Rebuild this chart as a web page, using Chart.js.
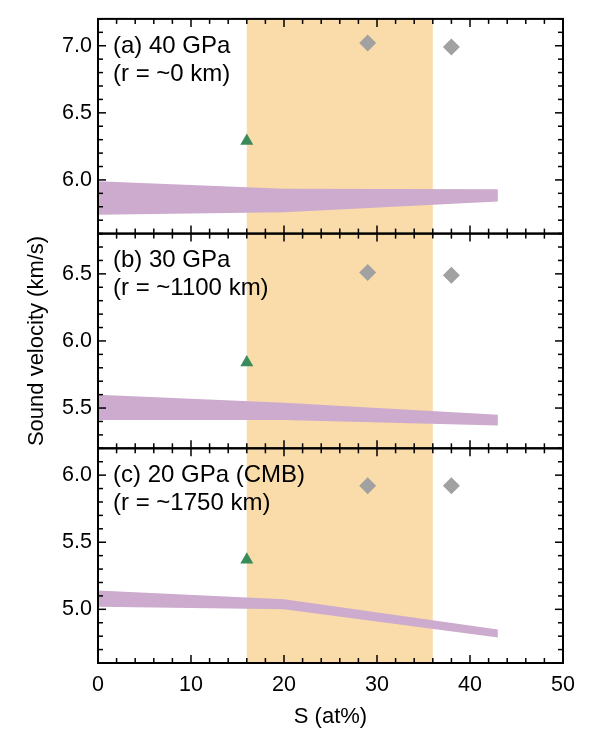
<!DOCTYPE html>
<html>
<head>
<meta charset="utf-8">
<script src="https://cdn.jsdelivr.net/npm/chart.js@4"></script>
<style>
  html, body { margin: 0; padding: 0; background: #fff; }
  #chart { display: block; }
</style>
</head>
<body>
<canvas id="chart" width="600" height="736"></canvas>
<script>
const FONT = '"Liberation Sans", Arial, Helvetica, sans-serif';

// S content axis
const xTicks = [0, 10, 20, 30, 40, 50];
const shadeRange = [16, 36];

// purple band: upper and lower edge at each S content
const bandS = [0, 20, 43];
const bandTopA = [5.99, 5.935, 5.93];
const bandBotA = [5.74, 5.76, 5.84];
const bandTopB = [5.60, 5.54, 5.45];
const bandBotB = [5.41, 5.41, 5.37];
const bandTopC = [5.14, 5.075, 4.85];
const bandBotC = [5.02, 5.00, 4.79];

// green triangle (one per panel, a / b / c)
const triangleS = [16];
const triangleV = [6.29, 5.84, 5.37];

// grey diamonds
const diamondS = [29, 38];
const diamondA = [7.02, 6.99];
const diamondB = [6.51, 6.49];
const diamondC = [5.92, 5.92];

// panels, top to bottom
const panelIds = ["yA", "yB", "yC"];
const panelRanges = [[5.6, 7.2], [5.2, 6.8], [4.6, 6.2]];
const panelTicks = [[6.0, 6.5, 7.0], [5.5, 6.0, 6.5], [5.0, 5.5, 6.0]];
const panelLabels = [
  ["(a) 40 GPa", "(r = ~0 km)"],
  ["(b) 30 GPa", "(r = ~1100 km)"],
  ["(c) 20 GPa (CMB)", "(r = ~1750 km)"]
];

const bandTops = [bandTopA, bandTopB, bandTopC];
const bandBots = [bandBotA, bandBotB, bandBotC];
const diamonds = [diamondA, diamondB, diamondC];

const SHADE = "#FADBAA";
const PURPLE = "#CDABCE";
const GREEN = "#3A8A5B";
const GREY = "#A1A1A1";

function pts(xs, ys) {
  return xs.map((x, i) => ({ x: x, y: ys[i] }));
}

// build datasets for each panel
const datasets = [];
panelIds.forEach((id, i) => {
  datasets.push({
    type: "line", data: pts(bandS, bandTops[i]), yAxisID: id,
    borderColor: "rgba(0,0,0,0)", borderWidth: 0, pointRadius: 0,
    backgroundColor: PURPLE, fill: "+1", tension: 0
  });
  datasets.push({
    type: "line", data: pts(bandS, bandBots[i]), yAxisID: id,
    borderColor: "rgba(0,0,0,0)", borderWidth: 0, pointRadius: 0,
    fill: false, tension: 0
  });
  datasets.push({
    type: "scatter", data: pts(triangleS, [triangleV[i]]), yAxisID: id,
    pointStyle: "triangle", pointRadius: 7.5, borderWidth: 0,
    backgroundColor: GREEN, borderColor: GREEN
  });
  datasets.push({
    type: "scatter", data: pts(diamondS, diamonds[i]), yAxisID: id,
    pointStyle: "rectRot", pointRadius: 8.5, borderWidth: 0,
    backgroundColor: GREY, borderColor: GREY
  });
});

function yScale(i) {
  return {
    type: "linear",
    position: "left",
    stack: "panels",
    stackWeight: 1,
    min: panelRanges[i][0],
    max: panelRanges[i][1],
    afterBuildTicks: s => { s.ticks = panelTicks[i].map(v => ({ value: v })); },
    afterFit: s => { s.width = 98; },
    grid: { display: false, drawTicks: false },
    border: { display: false },
    ticks: {
      font: { family: FONT, size: 21.5 },
      color: "#000",
      padding: 6,
      callback: v => Number(v).toFixed(1)
    },
    title: {
      display: i === 1,
      text: "Sound velocity (km/s)",
      font: { family: FONT, size: 22 },
      color: "#000",
      padding: { top: 24, bottom: 0 }
    }
  };
}

// shading, frames, inward ticks and panel labels
const framePlugin = {
  id: "frame",
  beforeDatasetsDraw(chart) {
    const { ctx, chartArea: a, scales } = chart;
    const x0 = scales.x.getPixelForValue(shadeRange[0]);
    const x1 = scales.x.getPixelForValue(shadeRange[1]);
    ctx.save();
    ctx.fillStyle = SHADE;
    ctx.fillRect(x0, a.top, x1 - x0, a.bottom - a.top);
    ctx.restore();
  },
  afterDatasetsDraw(chart) {
    const { ctx, chartArea: a, scales } = chart;
    const xs = scales.x;
    ctx.save();
    ctx.strokeStyle = "#000";
    const line = (x1, y1, x2, y2) => {
      ctx.beginPath(); ctx.moveTo(x1, y1); ctx.lineTo(x2, y2); ctx.stroke();
    };
    panelIds.forEach((id, i) => {
      const ys = scales[id];
      const top = ys.top, bottom = ys.bottom;
      ctx.lineWidth = 1.5;
      for (let v = xTicks[0]; v <= xTicks[xTicks.length - 1]; v += 2) {
        const px = xs.getPixelForValue(v);
        const len = v % 10 === 0 ? 8 : 5;
        line(px, top, px, top + len);
        line(px, bottom, px, bottom - len);
      }
      const k0 = Math.round(panelRanges[i][0] * 10);
      const k1 = Math.round(panelRanges[i][1] * 10);
      for (let k = k0; k <= k1; k++) {
        const py = ys.getPixelForValue(k / 10);
        const len = k % 5 === 0 ? 8 : 5;
        line(a.left, py, a.left + len, py);
        line(a.right, py, a.right - len, py);
      }
      ctx.lineWidth = 2;
      ctx.strokeRect(a.left, top, a.right - a.left, bottom - top);

      ctx.fillStyle = "#000";
      ctx.font = "24px " + FONT;
      ctx.textBaseline = "middle";
      ctx.textAlign = "left";
      panelLabels[i].forEach((t, j) => {
        ctx.fillText(t, a.left + 15, top + 27 + j * 28);
      });
    });
    ctx.restore();
  }
};

const ctx = document.getElementById("chart").getContext("2d");
new Chart(ctx, {
  type: "line",
  data: { datasets: datasets },
  options: {
    responsive: false,
    animation: false,
    events: [],
    layout: { padding: { left: 0, right: 37, top: 7, bottom: 0 } },
    plugins: {
      legend: { display: false },
      tooltip: { enabled: false }
    },
    scales: {
      x: {
        type: "linear",
        position: "bottom",
        min: 0,
        max: 50,
        afterBuildTicks: s => { s.ticks = xTicks.map(v => ({ value: v })); },
        afterFit: s => { s.height = 73; },
        grid: { display: false, drawTicks: false },
        border: { display: false },
        ticks: {
          font: { family: FONT, size: 21.5 },
          color: "#000",
          padding: 9,
          maxRotation: 0
        },
        title: {
          display: true,
          text: "S (at%)",
          font: { family: FONT, size: 22 },
          color: "#000",
          padding: { top: 0, bottom: 6 }
        }
      },
      yC: yScale(2),
      yB: yScale(1),
      yA: yScale(0)
    }
  },
  plugins: [framePlugin]
});
</script>
</body>
</html>
